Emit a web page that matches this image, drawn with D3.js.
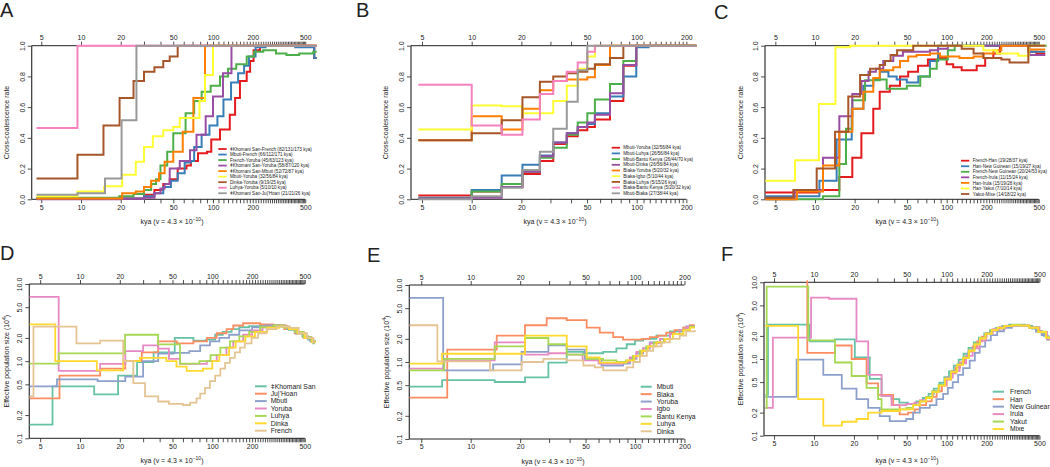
<!DOCTYPE html>
<html><head><meta charset="utf-8">
<script src="https://cdn.jsdelivr.net/npm/d3@7"></script>
<style>
body{margin:0;background:#fff}
svg{display:block}
text{font-family:"Liberation Sans",Arial,Helvetica,sans-serif;fill:#222}
</style>
</head><body>
<svg id="chart" width="1050" height="467"></svg>
<script>
// ---------------- DATA ----------------
const xTickLabels = [5, 10, 20, 50, 100, 200, 500];
const ccrTicks = [0, 0.2, 0.4, 0.6, 0.8, 1.0];
const neTicks = [0.1, 0.2, 0.5, 1, 2, 5, 10];

// Panel A: cross-coalescence rate, step points [kya, rate]
const namesA = ["ǂKhomani San-French (82/131/173 kya)","Mbuti-French (66/112/171 kya)","French-Yoruba (45/63/123 kya)","ǂKhomani San-Yoruba (58/87/120 kya)","ǂKhomani San-Mbuti (52/72/87 kya)","Mbuti-Yoruba (32/56/84 kya)","Dinka-Yoruba (9/19/25 kya)","Luhya-Yoruba (5/10/10 kya)","ǂKhomani San-Ju|'Hoan (21/21/26 kya)"];
const stepsA = [
 [[4.6,0.005],[30,0.03],[36,0.06],[42,0.1],[47,0.13],[54,0.2],[63,0.22],[68,0.25],[77,0.3],[90,0.31],[97,0.39],[113,0.455],[134,0.55],[147,0.66],[160,0.77],[180,0.83],[191,0.9],[203,0.97],[227,1.0],[585,0.92],[610,0.92]],
 [[4.6,0.005],[30,0.02],[36,0.04],[42,0.08],[48,0.12],[54,0.17],[61,0.24],[68,0.25],[72,0.34],[82,0.42],[94,0.48],[108,0.54],[120,0.65],[137,0.76],[155,0.82],[172,0.87],[187,0.93],[210,0.99],[250,1.0],[420,0.99],[585,0.92],[610,0.92]],
 [[4.6,0.01],[19.5,0.02],[25,0.035],[30,0.06],[34,0.1],[37,0.13],[40,0.22],[45,0.31],[50,0.43],[62,0.56],[72,0.64],[82,0.7],[96,0.74],[113,0.8],[130,0.85],[150,0.88],[180,0.93],[205,0.96],[240,0.97],[300,0.95],[360,0.94],[450,0.95],[575,0.96],[610,0.96]],
 [[4.6,0.0],[20,0.004],[30,0.01],[36,0.04],[40,0.07],[43,0.1],[47,0.2],[56,0.25],[67,0.32],[75,0.42],[88,0.54],[100,0.67],[119,0.82],[138,1.0],[610,1.0]],
 [[4.6,0.005],[20.5,0.04],[26,0.05],[30,0.08],[34,0.12],[39,0.17],[43,0.245],[50,0.31],[59,0.44],[71,0.66],[87,1.0],[610,1.0]],
 [[4.6,0.02],[9.4,0.05],[15,0.085],[20.5,0.16],[26,0.245],[30,0.34],[35,0.41],[42,0.45],[50,0.47],[56,0.53],[79,0.64],[87,0.81],[100,1.0],[610,1.0]],
 [[4.6,0.135],[9.4,0.29],[14.8,0.48],[19.6,0.66],[25,0.77],[30,0.83],[36,0.86],[42,0.9],[47,0.93],[54,1.0],[610,1.0]],
 [[4.6,0.465],[9.4,1.0],[610,1.0]],
 [[4.6,0.03],[9.4,0.04],[15.2,0.135],[20.3,0.515],[26.3,1.0],[610,1.0]]
];

// Panel B
const namesB = ["Mbuti-Yoruba (32/56/84 kya)","Mbuti-Luhya (26/56/84 kya)","Mbuti-Bantu Kenya (26/44/70 kya)","Mbuti-Dinka (26/56/84 kya)","Biaka-Yoruba (5/20/32 kya)","Biaka-Igbo (5/10/44 kya)","Biaka-Luhya (5/15/26 kya)","Biaka-Bantu Kenya (5/20/32 kya)","Mbuti-Biaka (27/38/44 kya)"];
const stepsB = [
 [[4.75,0.025],[10,0.05],[15.2,0.08],[20.3,0.165],[25.9,0.25],[31.2,0.36],[37.7,0.41],[43.9,0.45],[50.2,0.47],[55.8,0.52],[68.9,0.64],[83,0.87],[99.4,1.0],[230,1.0]],
 [[4.75,0.01],[10,0.06],[15.2,0.155],[20.3,0.225],[25.9,0.285],[31.2,0.37],[37.7,0.43],[43.9,0.47],[50.2,0.49],[55.8,0.56],[68.9,0.67],[83,0.8],[99.4,0.99],[118,1.0],[230,1.0]],
 [[4.75,0.005],[10,0.05],[15.2,0.1],[20.3,0.18],[25.9,0.27],[31.2,0.335],[37.7,0.42],[43.9,0.5],[50.2,0.56],[55.8,0.65],[68.9,0.75],[83,0.9],[99.4,1.0],[230,1.0]],
 [[4.75,0.005],[10,0.01],[15.2,0.08],[20.3,0.18],[25.9,0.28],[31.2,0.37],[37.7,0.43],[43.9,0.47],[50.2,0.5],[55.8,0.55],[68.9,0.69],[83,0.875],[99.4,1.0],[230,1.0]],
 [[4.75,0.385],[10,0.54],[15.2,0.455],[20.3,0.59],[25.9,0.71],[31.2,0.77],[37.7,0.78],[50.2,0.795],[55.8,0.875],[68.9,1.0],[230,1.0]],
 [[4.75,0.455],[10,0.61],[15.2,0.605],[20.3,0.56],[31.2,0.64],[37.7,0.74],[43.9,0.85],[50.2,0.93],[55.8,1.0],[230,1.0]],
 [[4.75,0.385],[10,0.43],[15.2,0.515],[20.3,0.665],[25.9,0.765],[31.2,0.8],[37.7,0.82],[43.9,0.83],[50.2,0.85],[55.8,0.88],[68.9,0.92],[83,1.0],[230,1.0]],
 [[4.75,0.745],[10,0.48],[15.2,0.42],[20.3,0.52],[25.9,0.685],[31.2,0.77],[37.7,0.83],[43.9,0.89],[50.2,0.96],[55.8,1.0],[230,1.0]],
 [[4.75,0.0],[10,0.02],[15.2,0.075],[20.3,0.19],[25.9,0.31],[31.2,0.46],[37.7,0.635],[43.9,0.84],[50.2,1.0],[230,1.0]]
];

// Panel C
const namesC = ["French-Han (19/28/37 kya)","Han-New Guinean (15/19/27 kya)","French-New Guinean (20/24/53 kya)","French-Irula (11/15/24 kya)","Han-Irula (15/19/28 kya)","Han-Yakut (7/10/14 kya)","Yakut-Mixe (14/18/22 kya)"];
const stepsC = [
 [[4.2,0.045],[10.8,0.06],[15.3,0.145],[19.2,0.27],[22.5,0.43],[27.7,0.59],[31,0.7],[37,0.74],[44.2,0.8],[51,0.83],[60.6,0.87],[72,0.91],[86,0.92],[100,0.88],[112,0.86],[130,0.84],[169,0.87],[196,0.92],[226,0.95],[254,1.0],[417,0.96],[480,0.95],[560,0.95]],
 [[4.2,0.02],[10.8,0.12],[14.6,0.39],[19,0.59],[23.3,0.74],[27.7,0.78],[31.1,0.83],[36.1,0.8],[41.7,0.78],[49.8,0.76],[60.9,0.8],[74.6,0.9],[86,1.0],[420,0.96],[560,0.96]],
 [[4.2,0.0],[11.5,0.02],[15.3,0.23],[17.2,0.46],[19.2,0.645],[24,0.775],[31,0.78],[35,0.72],[49.8,0.74],[63,0.8],[74.6,0.85],[84,0.91],[102,0.97],[115,1.0],[575,1.0]],
 [[4.2,0.0],[7,0.06],[11.5,0.27],[15.3,0.54],[19.2,0.685],[22.5,0.77],[25.5,0.83],[29,0.85],[33,0.9],[39.3,0.935],[46.5,0.96],[74.6,0.97],[86,0.98],[102,1.0],[425,0.94],[560,0.94]],
 [[4.2,0.0],[7.3,0.05],[11.5,0.22],[15.3,0.44],[19.2,0.59],[23.3,0.7],[27.7,0.79],[31,0.84],[39.3,0.86],[44.2,0.9],[51,0.93],[59,0.94],[74.6,0.95],[89,0.93],[125,0.92],[160,0.93],[190,0.95],[226,0.97],[260,1.0],[420,0.975],[560,0.975]],
 [[4.2,0.12],[7.05,0.255],[10.7,0.62],[14.3,0.99],[18.5,1.0],[190,0.97],[240,0.95],[350,0.935],[420,1.0],[560,1.0]],
 [[4.2,0.01],[6.85,0.06],[10.3,0.2],[14.2,0.44],[17.9,0.67],[22,0.81],[26.2,0.85],[31,0.875],[34,0.9],[37.5,0.94],[42,0.97],[55.7,1.0],[130,0.98],[160,0.95],[190,0.92],[260,0.91],[300,0.89],[417,1.0],[560,1.0]]
];

// Panel D: effective population size (10^4), step points [kya, Ne]
const namesD = ["ǂKhomani San","Ju|'Hoan","Mbuti","Yoruba","Luhya","Dinka","French"];
const stepsD = [
 [[4.14,0.15],[6.2,0.47],[12.8,0.37],[19.4,0.65],[27,0.97],[36,1.3],[52,2.0],[72,1.85],[90,1.9],[105,2.2],[120,2.4],[140,2.6],[160,2.75],[190,2.85],[230,2.9],[280,2.9],[330,2.8],[380,2.55],[430,2.3],[480,2.1],[530,1.9],[580,1.7],[597,1.7]],
 [[4.14,0.33],[7,0.65],[14.2,0.8],[22,1.0],[29.3,1.3],[39,1.8],[54,1.7],[72,1.8],[91,2.0],[108,2.3],[128,2.6],[144,2.9],[171,3.1],[230,3.0],[290,2.9],[350,2.6],[420,2.3],[490,2.0],[560,1.8],[597,1.75]],
 [[4.14,0.47],[6.7,0.58],[13.6,0.55],[22,0.63],[30,1.0],[39,1.25],[51,1.28],[67,1.35],[81,1.6],[96,1.8],[113,2.0],[134,2.2],[160,2.5],[200,2.75],[250,2.9],[310,2.85],[370,2.6],[430,2.3],[490,2.05],[550,1.8],[597,1.75]],
 [[4.14,6.8],[6.9,0.75],[14.2,0.92],[22,1.35],[30,1.6],[39,1.45],[47,1.07],[57,0.92],[91,1.0],[108,1.2],[128,1.5],[144,1.8],[171,2.2],[200,2.5],[240,2.8],[300,2.9],[360,2.7],[420,2.4],[490,2.05],[560,1.8],[597,1.75]],
 [[4.14,0.93],[6.9,1.26],[21.9,2.2],[38.9,1.65],[57,0.93],[80,1.0],[97,1.2],[115,1.5],[136,1.8],[160,2.1],[190,2.4],[230,2.75],[290,2.9],[350,2.7],[420,2.4],[490,2.05],[560,1.8],[597,1.75]],
 [[4.14,3.0],[6.5,1.0],[13.4,0.76],[21.2,1.0],[28.4,1.1],[45,1.0],[53.6,0.85],[64,0.75],[85,0.8],[100,1.0],[113,1.2],[134,1.5],[150,1.8],[178,2.1],[210,2.4],[260,2.7],[320,2.8],[380,2.6],[440,2.3],[500,2.0],[570,1.75],[597,1.72]],
 [[4.14,0.35],[4.45,2.8],[9.4,1.7],[14.2,1.85],[21.2,1.0],[25.3,0.52],[31,0.35],[39,0.3],[47,0.28],[60,0.27],[68,0.29],[76,0.33],[81,0.38],[88,0.45],[96,0.55],[105,0.65],[115,0.8],[125,0.95],[136,1.1],[148,1.3],[162,1.5],[176,1.7],[198,2.0],[222,2.3],[257,2.6],[306,2.8],[386,2.7],[450,2.3],[520,2.0],[580,1.75],[597,1.75]]
];

// Panel E
const namesE = ["Mbuti","Biaka","Yoruba","Igbo","Bantu Kenya","Luhya","Dinka"];
const stepsE = [
 [[4.23,0.48],[6.7,0.58],[14,0.55],[21.4,0.63],[29.7,0.98],[38.4,1.35],[48.5,1.3],[64,1.35],[77,1.5],[89,1.7],[100,1.9],[112,2.0],[135,2.2],[163,2.5],[197,2.8],[215,2.9],[231,2.9]],
 [[4.23,0.345],[7.2,1.45],[14.4,2.2],[21.4,3.0],[29,3.7],[38.4,3.5],[50.8,2.8],[61,2.4],[73.7,2.1],[84.6,1.95],[110,2.0],[123,2.1],[138,2.2],[155,2.4],[174,2.6],[197,2.8],[216,3.0],[231,3.0]],
 [[4.23,6.8],[6.8,0.78],[13.7,0.93],[20.4,1.35],[29.7,1.65],[38.4,1.45],[49.5,1.1],[62.5,0.9],[84.6,0.95],[93,1.1],[102,1.3],[112,1.5],[123,1.8],[142,2.0],[163,2.3],[187,2.6],[205,2.9],[231,2.9]],
 [[4.23,0.82],[6.9,1.05],[14,1.8],[21.4,1.25],[29.7,1.3],[38.4,1.25],[48,1.05],[60,0.95],[84.6,1.0],[93,1.15],[102,1.35],[112,1.5],[123,1.75],[142,2.0],[163,2.3],[187,2.6],[205,2.85],[231,2.85]],
 [[4.23,0.78],[6.9,1.1],[14,1.6],[21.4,2.05],[29.7,1.7],[38.4,1.25],[50.8,1.1],[64,1.05],[77,1.0],[88,1.05],[97,1.2],[107,1.4],[117,1.6],[130,1.8],[150,2.0],[170,2.3],[197,2.6],[216,2.85],[231,2.85]],
 [[4.23,0.95],[6.7,1.28],[21.4,2.2],[38.4,1.6],[50.8,1.15],[61,0.98],[89,1.05],[99,1.2],[110,1.4],[120,1.6],[135,1.8],[152,2.0],[170,2.3],[197,2.6],[216,2.8],[231,2.8]],
 [[4.23,3.0],[6.27,1.02],[13.1,0.78],[20.4,1.0],[27.7,1.1],[38.4,1.05],[48.5,0.9],[57,0.85],[64,0.78],[89,0.85],[97.6,1.0],[107,1.2],[118,1.4],[129,1.6],[145,1.8],[163,2.0],[187,2.2],[205,2.5],[231,2.6]]
];

// Panel F
const namesF = ["French","Han","New Guinean","Irula","Yakut","Mixe"];
const stepsF = [
 [[4.3,0.34],[4.5,2.8],[9.3,1.7],[14.4,1.8],[20.3,1.05],[26.3,0.55],[32.3,0.33],[38.4,0.3],[44,0.27],[51,0.26],[59,0.28],[66,0.31],[73,0.35],[80,0.41],[88,0.49],[96,0.58],[104,0.69],[113,0.82],[123,0.98],[134,1.17],[146,1.4],[160,1.65],[175,1.9],[192,2.15],[212,2.38],[235,2.55],[262,2.7],[295,2.8],[340,2.8],[390,2.7],[440,2.5],[490,2.25],[540,2.0],[580,1.8],[600,1.8]],
 [[4.3,15],[8.9,1.2],[14.4,1.5],[19.2,1.0],[24.9,0.48],[30.4,0.34],[39.5,0.25],[44.2,0.19],[51.2,0.2],[57.4,0.22],[62.7,0.25],[70,0.28],[77,0.32],[84,0.38],[92,0.45],[100,0.54],[108,0.65],[117,0.77],[126,0.9],[136,1.05],[146,1.25],[157,1.45],[170,1.7],[185,1.95],[200,2.15],[220,2.35],[245,2.5],[275,2.65],[310,2.75],[370,2.72],[420,2.55],[470,2.3],[520,2.05],[570,1.8],[600,1.8]],
 [[4.3,0.32],[7.4,0.98],[11.75,0.62],[16.2,0.41],[20.9,0.3],[25.6,0.23],[31.3,0.18],[37.2,0.155],[49.6,0.165],[55.8,0.2],[62.7,0.23],[74.6,0.25],[83.7,0.3],[94,0.35],[102,0.42],[111,0.5],[122,0.62],[133,0.76],[149,0.95],[163,1.2],[177,1.45],[195,1.75],[215,2.05],[240,2.3],[270,2.55],[310,2.7],[370,2.7],[420,2.55],[470,2.3],[520,2.05],[570,1.8],[600,1.8]],
 [[4.3,0.23],[4.9,1.9],[9.5,6.3],[13,6.1],[20.9,1.7],[25.6,0.62],[32.3,0.33],[38.4,0.25],[49.6,0.26],[57,0.27],[63,0.29],[70,0.32],[79,0.38],[88,0.46],[99,0.57],[111,0.7],[125,0.88],[140,1.1],[157,1.38],[177,1.74],[198,2.15],[222,2.45],[249,2.6],[280,2.72],[320,2.78],[370,2.75],[420,2.6],[500,2.25],[570,1.85],[600,1.85]],
 [[4.3,0.23],[4.4,8.8],[9.05,1.75],[14.4,0.9],[19.2,0.6],[24.9,0.42],[30.4,0.3],[32.3,0.22],[49.6,0.23],[55.8,0.25],[62.7,0.28],[70,0.32],[78,0.38],[87,0.46],[97,0.56],[108,0.69],[120,0.85],[133,1.05],[147,1.3],[162,1.58],[178,1.88],[196,2.15],[218,2.4],[242,2.57],[272,2.7],[310,2.78],[360,2.75],[420,2.58],[490,2.28],[560,1.92],[600,1.85]],
 [[4.3,2.7],[7.6,0.3],[11.75,0.135],[16.2,0.152],[20.9,0.165],[25.6,0.2],[32.3,0.21],[44,0.22],[55.8,0.25],[62.7,0.28],[70,0.31],[78,0.37],[87,0.45],[97,0.55],[108,0.68],[120,0.84],[133,1.03],[147,1.28],[162,1.55],[178,1.85],[196,2.12],[218,2.38],[242,2.55],[272,2.68],[310,2.75],[360,2.72],[420,2.55],[490,2.25],[560,1.9],[600,1.82]]
];

// ---------------- STYLE / LAYOUT ----------------
const set1 = ["#e41a1c","#377eb8","#4daf4a","#984ea3","#ff7f00","#ffff33","#a65628","#f781bf","#999999"];
const set2 = ["#66c2a5","#fc8d62","#8da0cb","#e78ac3","#a6d854","#ffd92f","#e5c494"];

const panels = [
 {id:"A", names:namesA, steps:stepsA, colors:set1, log:false, left:31.7, top:45.7, bottom:199.3, x10:81, x100:213, right:318, tickMax:500,
  letter:[0,17], yTitleX:8.5, xTitleX:172, xTitleY:224, leg:{lx:218.3, lw:8.4, tx:230, y0:149, dy:5.53, fs:4.6}, lwidth:2},
 {id:"B", names:namesB, steps:stepsB, colors:set1, log:false, left:411, top:45.7, bottom:199.3, x10:471.7, x100:636.7, right:698, tickMax:200,
  letter:[356,17], yTitleX:387.5, xTitleX:555, xTitleY:224, leg:{lx:611.7, lw:8.3, tx:623.3, y0:147.7, dy:5.7, fs:4.6}, lwidth:2},
 {id:"C", names:namesC, steps:stepsC, colors:set1, log:false, left:765, top:45.7, bottom:199.3, x10:815, x100:946.7, right:1048, tickMax:500,
  letter:[714,19], yTitleX:742.5, xTitleX:907, xTitleY:224, leg:{lx:961, lw:8.3, tx:972.7, y0:160.7, dy:5.55, fs:4.6}, lwidth:2},
 {id:"D", names:namesD, steps:stepsD, colors:set2, log:true, left:29.3, top:284, bottom:438.3, x10:80, x100:212.3, right:316, tickMax:500,
  letter:[0,260], yTitleX:8.5, xTitleX:172, xTitleY:462.5, leg:{lx:255, lw:11.7, tx:270.7, y0:386.3, dy:7.4, fs:6.8}, lwidth:1.8},
 {id:"E", names:namesE, steps:stepsE, colors:set2, log:true, left:409.3, top:285, bottom:439, x10:470.7, x100:635, right:697, tickMax:200,
  letter:[367,262], yTitleX:389, xTitleX:553, xTitleY:463.5, leg:{lx:640.7, lw:11, tx:656.7, y0:386.7, dy:7.43, fs:6.8}, lwidth:1.8},
 {id:"F", names:namesF, steps:stepsF, colors:set2, log:true, left:764, top:282.3, bottom:435.7, x10:814, x100:946.7, right:1050, tickMax:500,
  letter:[721,261], yTitleX:742.5, xTitleX:907, xTitleY:462.5, leg:{lx:992.7, lw:11.3, tx:1010, y0:391.7, dy:7.47, fs:6.8}, lwidth:1.8}
];

const svg = d3.select("#chart");
const axisColor = "#222";
const tickFont = 7;

function styleAxis(g){
  g.select(".domain").remove();
  g.selectAll(".tick line").attr("stroke", axisColor).attr("stroke-width", 0.8);
  g.selectAll(".tick text").attr("font-size", tickFont).attr("fill", "#222")
    .attr("font-family", "'Liberation Sans', Arial, sans-serif");
}

panels.forEach(P => {
  const x = d3.scaleLog().domain([10, 100]).range([P.x10, P.x100]);
  const y = P.log ? d3.scaleLog().domain([0.1, 10]).range([P.bottom, P.top])
                  : d3.scaleLinear().domain([0, 1]).range([P.bottom, P.top]);
  const g = svg.append("g");

  g.append("text").attr("x", P.letter[0]).attr("y", P.letter[1]).attr("font-size", 20)
    .attr("fill", "#111").text(P.id);

  const xTicks = [5].concat(d3.range(10, P.tickMax + 1, 10));
  const lab = xTickLabels.filter(v => v <= P.tickMax);
  const fmt = v => lab.includes(v) ? String(v) : "";
  const xEnd = x(P.tickMax);

  const gb = g.append("g").attr("transform", `translate(0,${P.bottom})`)
    .call(d3.axisBottom(x).tickValues(xTicks).tickFormat(fmt).tickSize(4).tickPadding(1.5));
  styleAxis(gb);
  const gt = g.append("g").attr("transform", `translate(0,${P.top})`)
    .call(d3.axisTop(x).tickValues(xTicks).tickFormat(fmt).tickSize(4).tickPadding(1.5));
  styleAxis(gt);
  g.append("line").attr("x1", P.left).attr("x2", xEnd).attr("y1", P.bottom).attr("y2", P.bottom)
    .attr("stroke", axisColor).attr("stroke-width", 1);
  g.append("line").attr("x1", P.left).attr("x2", xEnd).attr("y1", P.top).attr("y2", P.top)
    .attr("stroke", axisColor).attr("stroke-width", 1);

  const yAx = d3.axisLeft(y).tickValues(P.log ? neTicks : ccrTicks).tickFormat(d3.format(".1f")).tickSize(4);
  const gl = g.append("g").attr("transform", `translate(${P.left},0)`).call(yAx);
  styleAxis(gl);
  gl.selectAll(".tick text").attr("x", 0).attr("y", -7).attr("dy", 0)
    .attr("text-anchor", "middle").attr("transform", "rotate(-90)");
  g.append("line").attr("x1", P.left).attr("x2", P.left).attr("y1", P.top).attr("y2", P.bottom)
    .attr("stroke", "#333").attr("stroke-width", 1.2);

  svg.append("clipPath").attr("id", "clip" + P.id).append("rect")
    .attr("x", P.left).attr("y", P.top - 2).attr("width", P.right - P.left + 2).attr("height", P.bottom - P.top + 4);

  const line = d3.line().x(d => x(d[0])).y(d => y(d[1])).curve(d3.curveStepAfter);
  g.append("g").attr("clip-path", `url(#clip${P.id})`)
    .selectAll("path").data(P.steps).join("path")
    .attr("d", line).attr("fill", "none")
    .attr("stroke", (d, i) => P.colors[i]).attr("stroke-width", P.lwidth)
    .attr("stroke-linejoin", "miter").attr("stroke-linecap", "butt");

  const xt = g.append("text").attr("x", P.xTitleX).attr("y", P.xTitleY).attr("text-anchor", "middle")
    .attr("font-size", 7);
  xt.append("tspan").text("kya (v = 4.3 × 10");
  xt.append("tspan").attr("dy", -2.6).attr("font-size", 5).text("−10");
  xt.append("tspan").attr("dy", 2.6).text(")");

  const yc = (P.top + P.bottom) / 2;
  const yt = g.append("text").attr("transform", `translate(${P.yTitleX},${yc}) rotate(-90)`)
    .attr("text-anchor", "middle").attr("font-size", 7);
  if (P.log) {
    yt.append("tspan").text("Effective population size (10");
    yt.append("tspan").attr("dy", -2.6).attr("font-size", 5).text("4");
    yt.append("tspan").attr("dy", 2.6).text(")");
  } else {
    yt.text("Cross-coalescence rate");
  }

  const L = P.leg;
  const lg = g.append("g");
  P.names.forEach((n, i) => {
    const yy = L.y0 + i * L.dy;
    lg.append("line").attr("x1", L.lx).attr("x2", L.lx + L.lw).attr("y1", yy).attr("y2", yy)
      .attr("stroke", P.colors[i]).attr("stroke-width", P.log ? 2 : 1.8);
    lg.append("text").attr("x", L.tx).attr("y", yy + L.fs * 0.35).attr("font-size", L.fs)
      .attr("fill", "#333").text(n);
  });
});
</script>
</body></html>
